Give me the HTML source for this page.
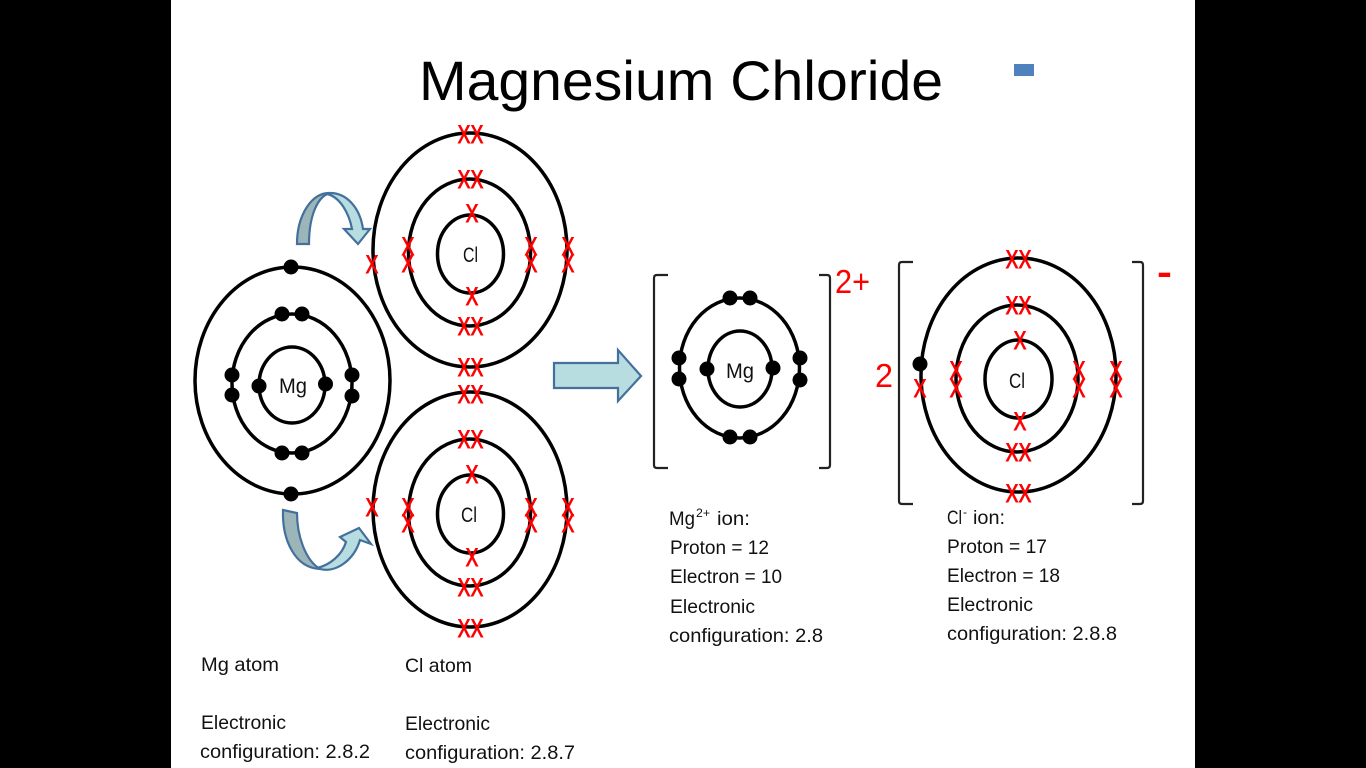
<!DOCTYPE html>
<html><head><meta charset="utf-8"><title>Magnesium Chloride</title>
<style>
html,body{margin:0;padding:0;width:1366px;height:768px;overflow:hidden;background:#000}
svg{display:block}
text{font-family:"Liberation Sans",sans-serif;fill:#111;font-size:19.5px}
.x{font-size:25px;fill:#f00;stroke:#f00;stroke-width:1;text-anchor:middle}
.o{fill:none;stroke:#000;stroke-width:3.5}
.b{fill:none;stroke:#222;stroke-width:2.2;stroke-linejoin:round}
.r{fill:#f00;font-size:33px}
.a{stroke:#44709c;stroke-width:2.2;stroke-linejoin:miter}
</style></head><body>
<svg width="1366" height="768" viewBox="0 0 1366 768" xmlns="http://www.w3.org/2000/svg">
<rect x="0" y="0" width="1366" height="768" fill="#000"/>
<rect x="171" y="0" width="1024" height="768" fill="#fff"/>
<text x="419" y="100" style="font-size:56px;fill:#000" textLength="524" lengthAdjust="spacingAndGlyphs">Magnesium Chloride</text>
<rect x="1014" y="64" width="20" height="12" fill="#4f81bd"/>

<!-- Orbits -->
<g class="o">
<ellipse class="o" cx="470" cy="250" rx="97" ry="117"/><ellipse class="o" cx="469.5" cy="252.5" rx="61" ry="73.5"/><ellipse class="o" cx="470.5" cy="254" rx="33" ry="39"/>
<ellipse class="o" cx="470" cy="509.5" rx="97" ry="117.5"/><ellipse class="o" cx="469.5" cy="512.5" rx="61" ry="73.5"/><ellipse class="o" cx="470.5" cy="514" rx="33" ry="39"/>
<ellipse class="o" cx="292.5" cy="380.5" rx="97.5" ry="113.5"/><ellipse class="o" cx="292" cy="383.5" rx="60" ry="69.5"/><ellipse class="o" cx="292" cy="385" rx="33" ry="38"/>
<ellipse class="o" cx="739.5" cy="368" rx="60" ry="70"/><ellipse class="o" cx="740" cy="369" rx="32" ry="38"/>
<ellipse class="o" cx="1018.5" cy="375" rx="97.5" ry="117"/><ellipse class="o" cx="1017" cy="378.5" rx="61" ry="73.5"/><ellipse class="o" cx="1018.5" cy="379" rx="33.5" ry="39"/>
</g>

<!-- Electrons -->
<g fill="#000">
<circle cx="291" cy="267" r="7.5"/><circle cx="291" cy="494" r="7.5"/>
<circle cx="282" cy="314" r="7.5"/><circle cx="302" cy="314" r="7.5"/><circle cx="282" cy="453" r="7.5"/><circle cx="302" cy="453" r="7.5"/>
<circle cx="232" cy="375" r="7.5"/><circle cx="232" cy="395" r="7.5"/><circle cx="352" cy="375" r="7.5"/><circle cx="352" cy="396" r="7.5"/>
<circle cx="259" cy="386" r="7.5"/><circle cx="325.5" cy="384" r="7.5"/>
<circle cx="730" cy="298" r="7.5"/><circle cx="750" cy="298" r="7.5"/><circle cx="730" cy="437" r="7.5"/><circle cx="750" cy="437" r="7.5"/>
<circle cx="679" cy="358" r="7.5"/><circle cx="679" cy="379" r="7.5"/><circle cx="800" cy="358" r="7.5"/><circle cx="800" cy="380" r="7.5"/>
<circle cx="707" cy="369" r="7.5"/><circle cx="773" cy="368" r="7.5"/>
<circle cx="920" cy="364" r="7.5"/>
</g>

<!-- Top Cl crosses -->
<text class="x" transform="translate(464 143) scale(.75 1)">X</text><text class="x" transform="translate(477 143) scale(.75 1)">X</text>
<text class="x" transform="translate(464 188) scale(.75 1)">X</text><text class="x" transform="translate(477 188) scale(.75 1)">X</text>
<text class="x" transform="translate(472 222) scale(.75 1)">X</text><text class="x" transform="translate(472 305) scale(.75 1)">X</text>
<text class="x" transform="translate(464 335) scale(.75 1)">X</text><text class="x" transform="translate(477 335) scale(.75 1)">X</text>
<text class="x" transform="translate(464 376) scale(.75 1)">X</text><text class="x" transform="translate(477 376) scale(.75 1)">X</text>
<text class="x" transform="translate(372 273) scale(.75 1)">X</text>
<text class="x" transform="translate(408 255) scale(.75 1)">X</text><text class="x" transform="translate(408 272) scale(.75 1)">X</text>
<text class="x" transform="translate(531 255) scale(.75 1)">X</text><text class="x" transform="translate(531 272) scale(.75 1)">X</text>
<text class="x" transform="translate(568 255) scale(.75 1)">X</text><text class="x" transform="translate(568 272) scale(.75 1)">X</text>

<!-- Bottom Cl crosses -->
<text class="x" transform="translate(464 403) scale(.75 1)">X</text><text class="x" transform="translate(477 403) scale(.75 1)">X</text>
<text class="x" transform="translate(464 448) scale(.75 1)">X</text><text class="x" transform="translate(477 448) scale(.75 1)">X</text>
<text class="x" transform="translate(472 483) scale(.75 1)">X</text><text class="x" transform="translate(472 566) scale(.75 1)">X</text>
<text class="x" transform="translate(464 596) scale(.75 1)">X</text><text class="x" transform="translate(477 596) scale(.75 1)">X</text>
<text class="x" transform="translate(464 637) scale(.75 1)">X</text><text class="x" transform="translate(477 637) scale(.75 1)">X</text>
<text class="x" transform="translate(372 516) scale(.75 1)">X</text>
<text class="x" transform="translate(408 516) scale(.75 1)">X</text><text class="x" transform="translate(408 532) scale(.75 1)">X</text>
<text class="x" transform="translate(531 516) scale(.75 1)">X</text><text class="x" transform="translate(531 532) scale(.75 1)">X</text>
<text class="x" transform="translate(568 516) scale(.75 1)">X</text><text class="x" transform="translate(568 532) scale(.75 1)">X</text>

<!-- Cl ion crosses -->
<text class="x" transform="translate(1012 268) scale(.75 1)">X</text><text class="x" transform="translate(1025 268) scale(.75 1)">X</text>
<text class="x" transform="translate(1012 314) scale(.75 1)">X</text><text class="x" transform="translate(1025 314) scale(.75 1)">X</text>
<text class="x" transform="translate(1020 349) scale(.75 1)">X</text><text class="x" transform="translate(1020 430) scale(.75 1)">X</text>
<text class="x" transform="translate(1012 461) scale(.75 1)">X</text><text class="x" transform="translate(1025 461) scale(.75 1)">X</text>
<text class="x" transform="translate(1012 502) scale(.75 1)">X</text><text class="x" transform="translate(1025 502) scale(.75 1)">X</text>
<text class="x" transform="translate(920 397) scale(.75 1)">X</text>
<text class="x" transform="translate(956 379) scale(.75 1)">X</text><text class="x" transform="translate(956 397) scale(.75 1)">X</text>
<text class="x" transform="translate(1079 379) scale(.75 1)">X</text><text class="x" transform="translate(1079 397) scale(.75 1)">X</text>
<text class="x" transform="translate(1116 379) scale(.75 1)">X</text><text class="x" transform="translate(1116 397) scale(.75 1)">X</text>

<!-- Brackets -->
<path class="b" d="M668 275H657Q654 275 654 278V465Q654 468 657 468H668"/>
<path class="b" d="M819 275H827Q830 275 830 278V465Q830 468 827 468H819"/>
<path class="b" d="M913 262H902Q899 262 899 265V501Q899 504 902 504H913"/>
<path class="b" d="M1132 262H1140Q1143 262 1143 265V501Q1143 504 1140 504H1132"/>

<!-- Arrows -->
<path class="a" fill="#b7dde0" d="M554 363H618V350L641 376L618 401V388H554Z"/>
<path class="a" fill="#b7dde0" d="M330 193C347 193 360 208 363 229L370 229L358 244L344 229L352 229C349 213 340 197 327 194Z"/>
<path class="a" fill="#9cb5b8" d="M297 244C297 215 312 192 330 193C318 196 309 215 309 244Z"/>
<path class="a" fill="#b7dde0" d="M317 568C330 565 342 555 346 542L340 537L359 528L371 544L360 540C354 560 335 575 317 568Z"/>
<path class="a" fill="#9cb5b8" d="M283 510L297 513C297 535 305 560 320 569C295 568 282 540 283 510Z"/>

<!-- Nucleus labels -->
<text x="463" y="262" style="font-size:21px" textLength="15" lengthAdjust="spacingAndGlyphs">Cl</text>
<text x="461" y="522" style="font-size:21px" textLength="16" lengthAdjust="spacingAndGlyphs">Cl</text>
<text x="279" y="393" style="font-size:21px" textLength="28" lengthAdjust="spacingAndGlyphs">Mg</text>
<text x="726" y="378" style="font-size:21px" textLength="28" lengthAdjust="spacingAndGlyphs">Mg</text>
<text x="1009" y="388" style="font-size:21px" textLength="16" lengthAdjust="spacingAndGlyphs">Cl</text>

<!-- Charges -->
<text class="r" x="835" y="293" textLength="35" lengthAdjust="spacingAndGlyphs">2+</text>
<text class="r" x="875" y="387" textLength="18" lengthAdjust="spacingAndGlyphs">2</text>
<text class="r" x="1157" y="284" style="font-size:36px;font-weight:bold" textLength="15" lengthAdjust="spacingAndGlyphs">-</text>

<!-- Captions -->
<text x="201" y="671" textLength="78" lengthAdjust="spacingAndGlyphs">Mg atom</text>
<text x="201" y="729" textLength="85" lengthAdjust="spacingAndGlyphs">Electronic</text>
<text x="200" y="758" textLength="170" lengthAdjust="spacingAndGlyphs">configuration: 2.8.2</text>
<text x="405" y="672" textLength="67" lengthAdjust="spacingAndGlyphs">Cl atom</text>
<text x="405" y="730" textLength="85" lengthAdjust="spacingAndGlyphs">Electronic</text>
<text x="405" y="759" textLength="170" lengthAdjust="spacingAndGlyphs">configuration: 2.8.7</text>

<text x="669" y="525" textLength="26" lengthAdjust="spacingAndGlyphs">Mg</text>
<text x="696" y="517" style="font-size:12px" textLength="14" lengthAdjust="spacingAndGlyphs">2+</text>
<text x="717" y="525" textLength="33" lengthAdjust="spacingAndGlyphs">ion:</text>
<text x="670" y="554" textLength="99" lengthAdjust="spacingAndGlyphs">Proton = 12</text>
<text x="670" y="583" textLength="112" lengthAdjust="spacingAndGlyphs">Electron = 10</text>
<text x="670" y="613" textLength="85" lengthAdjust="spacingAndGlyphs">Electronic</text>
<text x="669" y="642" textLength="154" lengthAdjust="spacingAndGlyphs">configuration: 2.8</text>

<text x="947" y="524" textLength="15" lengthAdjust="spacingAndGlyphs">Cl</text>
<text x="963" y="516" style="font-size:12px">-</text>
<text x="973" y="524" textLength="32" lengthAdjust="spacingAndGlyphs">ion:</text>
<text x="947" y="553" textLength="100" lengthAdjust="spacingAndGlyphs">Proton = 17</text>
<text x="947" y="582" textLength="113" lengthAdjust="spacingAndGlyphs">Electron = 18</text>
<text x="947" y="611" textLength="86" lengthAdjust="spacingAndGlyphs">Electronic</text>
<text x="947" y="640" textLength="170" lengthAdjust="spacingAndGlyphs">configuration: 2.8.8</text>
</svg>
</body></html>
